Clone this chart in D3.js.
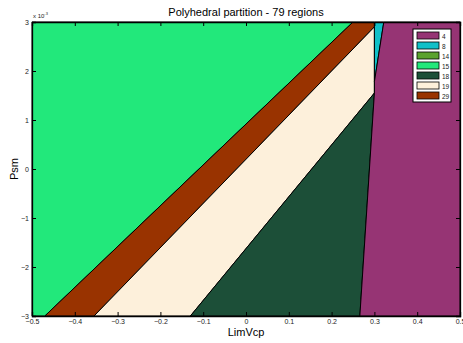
<!DOCTYPE html>
<html>
<head>
<meta charset="utf-8">
<script src="https://cdn.jsdelivr.net/npm/d3@7"></script>
<style>
  body { margin: 0; background: #fff; }
  text { font-family: "Liberation Sans", Arial, sans-serif; }
</style>
</head>
<body>
<script>
const width = 463
const height = 343
const margin = {top: 22, right: 3, bottom: 27, left: 32}

// region ids shown in the legend
const regionIds = ['4', '8', '14', '15', '18', '19', '29']

// polygon vertices per region, [LimVcp, Psm (x 1e-3)]
const region15 = [[-0.5, 3], [0.25, 3], [-0.47, -3], [-0.5, -3]]
const region29 = [[0.25, 3], [0.3, 3], [0.3, 2.9], [-0.355, -3], [-0.47, -3]]
const region19 = [[0.3, 2.9], [0.3, 1.55], [-0.13, -3], [-0.355, -3]]
const region18 = [[0.3, 1.55], [0.266, -3], [-0.13, -3]]
const region8 = [[0.3, 3], [0.322, 3], [0.3, 1.78]]
const region4 = [[0.322, 3], [0.5, 3], [0.5, -3], [0.266, -3], [0.3, 1.55], [0.3, 1.78]]

const xTicks = [-0.5, -0.4, -0.3, -0.2, -0.1, 0, 0.1, 0.2, 0.3, 0.4, 0.5]
const yTicks = [-3, -2, -1, 0, 1, 2, 3]

const regions = [
  {id: '15', pts: region15},
  {id: '29', pts: region29},
  {id: '19', pts: region19},
  {id: '18', pts: region18},
  {id: '8', pts: region8},
  {id: '4', pts: region4},
]

const color = d3.scaleOrdinal()
  .domain(regionIds)
  .range(['#963474', '#10C0C8', '#5BA22E', '#22E87B', '#1C4F38', '#FDF0DB', '#993300'])

const x = d3.scaleLinear().domain([-0.5, 0.5]).range([margin.left, width - margin.right])
const y = d3.scaleLinear().domain([-3, 3]).range([height - margin.bottom, margin.top])

const svg = d3.select('body').append('svg').attr('width', width).attr('height', height)

const line = d3.line().x(d => x(d[0])).y(d => y(d[1]))

svg.append('g')
  .selectAll('path')
  .data(regions)
  .join('path')
  .attr('d', d => line(d.pts) + 'Z')
  .attr('fill', d => color(d.id))
  .attr('stroke', '#000')
  .attr('stroke-width', 1)
  .attr('stroke-linejoin', 'round')

// axes: ticks inside, MATLAB style
const fmtX = d => d === 0 ? '0' : d3.format('.1f')(d)
svg.append('g')
  .attr('transform', `translate(0,${y(-3)})`)
  .call(d3.axisBottom(x).tickValues(xTicks).tickSize(-4).tickPadding(3).tickFormat(fmtX))
svg.append('g')
  .attr('transform', `translate(0,${y(3)})`)
  .call(d3.axisTop(x).tickValues(xTicks).tickSize(-4).tickFormat(''))
svg.append('g')
  .attr('transform', `translate(${x(-0.5)},0)`)
  .call(d3.axisLeft(y).tickValues(yTicks).tickSize(-4).tickPadding(3).tickFormat(d3.format('d')))
svg.append('g')
  .attr('transform', `translate(${x(0.5)},0)`)
  .call(d3.axisRight(y).tickValues(yTicks).tickSize(-4).tickFormat(''))

svg.selectAll('.domain').attr('stroke', '#000').attr('stroke-width', 1.3)
svg.selectAll('.tick line').attr('stroke', '#000')
svg.selectAll('.tick text').attr('font-size', 7).attr('fill', '#222').style('font-family', 'Liberation Sans, Arial, sans-serif')

// exponent label
const expo = svg.append('text')
  .attr('x', x(-0.5) + 1)
  .attr('y', y(3) - 4)
  .attr('font-size', 6)
  .attr('fill', '#222')
expo.append('tspan').text('x 10')
expo.append('tspan').attr('dy', -3).attr('font-size', 4).text('-3')

svg.append('text')
  .attr('x', (x(-0.5) + x(0.5)) / 2)
  .attr('y', 16)
  .attr('text-anchor', 'middle')
  .attr('font-size', 11)
  .text('Polyhedral partition - 79 regions')

svg.append('text')
  .attr('x', (x(-0.5) + x(0.5)) / 2)
  .attr('y', 336)
  .attr('text-anchor', 'middle')
  .attr('font-size', 11)
  .text('LimVcp')

svg.append('text')
  .attr('transform', `translate(18,${(y(-3) + y(3)) / 2}) rotate(-90)`)
  .attr('text-anchor', 'middle')
  .attr('font-size', 11)
  .text('Psm')

// legend
const legend = svg.append('g').attr('transform', 'translate(413,29)')
legend.append('rect')
  .attr('width', 38).attr('height', 73)
  .attr('fill', '#fff').attr('stroke', '#000').attr('stroke-width', 1)

const items = legend.selectAll('g.item')
  .data(regionIds)
  .join('g')
  .attr('class', 'item')
  .attr('transform', (d, i) => `translate(4,${3 + i * 10})`)

items.append('rect')
  .attr('width', 22).attr('height', 7)
  .attr('fill', d => color(d))
  .attr('stroke', '#000').attr('stroke-width', 0.8)

items.append('text')
  .attr('x', 25).attr('y', 6.5)
  .attr('font-size', 6.5)
  .attr('fill', '#222')
  .text(d => d)
</script>
</body>
</html>
